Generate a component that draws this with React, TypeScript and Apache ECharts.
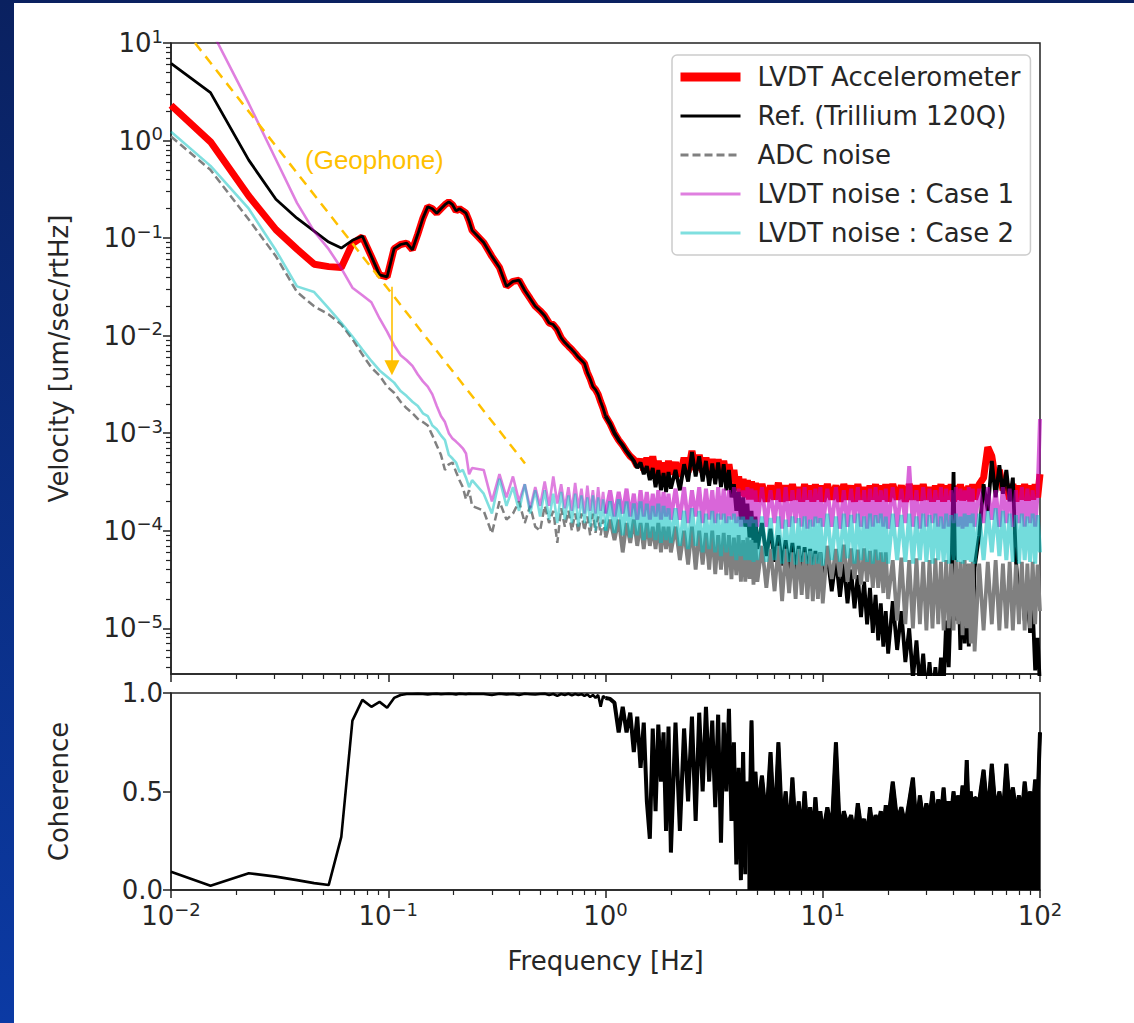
import React, { useEffect, useRef } from "react";
import * as echarts from "echarts";

// ---------------- data ----------------
const freqHz = [
  // 0.01 .. 0.25
  0.01, 0.0152, 0.0228, 0.0304, 0.038, 0.0456, 0.0532, 0.0608, 0.0684, 0.076,
  0.0836, 0.0912, 0.0988, 0.1064, 0.114, 0.1216, 0.1292, 0.1368, 0.1444, 0.152,
  0.1596, 0.1672, 0.1748, 0.1824, 0.19, 0.1976, 0.2052, 0.2128, 0.2204, 0.228,
  0.2356, 0.2432,
  // 0.275 .. 0.5
  0.275, 0.3, 0.325, 0.35, 0.375, 0.4, 0.425, 0.45, 0.475, 0.5,
  // 0.525 .. 1
  0.525, 0.55, 0.575, 0.6, 0.625, 0.65, 0.675, 0.7, 0.725, 0.75,
  0.775, 0.8, 0.825, 0.85, 0.875, 0.9, 0.925, 0.95, 0.975, 1,
  // 1.05 .. 2
  1.05, 1.1, 1.15, 1.2, 1.25, 1.3, 1.35, 1.4, 1.45, 1.5,
  1.55, 1.6, 1.65, 1.7, 1.75, 1.8, 1.85, 1.9, 1.95, 2,
  // 2.1 .. 5
  2.1, 2.2, 2.3, 2.4, 2.5, 2.6, 2.7, 2.8, 2.9, 3,
  3.1, 3.2, 3.3, 3.4, 3.5, 3.6, 3.7, 3.8, 3.9, 4,
  4.1, 4.2, 4.3, 4.4, 4.5, 4.6, 4.7, 4.8, 4.9, 5,
  // 5.25 .. 10
  5.25, 5.5, 5.75, 6, 6.25, 6.5, 6.75, 7, 7.25, 7.5,
  7.75, 8, 8.25, 8.5, 8.75, 9, 9.25, 9.5, 9.75, 10,
  // 10.5 .. 20
  10.5, 11, 11.5, 12, 12.5, 13, 13.5, 14, 14.5, 15,
  15.5, 16, 16.5, 17, 17.5, 18, 18.5, 19, 19.5, 20,
  // 21 .. 50
  21, 22, 23, 24, 25, 26, 27, 28, 29, 30,
  31, 32, 33, 34, 35, 36, 37, 38, 39, 40,
  41, 42, 43, 44, 45, 46, 47, 48, 49, 50,
  // 52.5 .. 100
  52.5, 55, 57.5, 60, 62.5, 65, 67.5, 70, 72.5, 75,
  77.5, 80, 82.5, 85, 87.5, 90, 92.5, 95, 97.5, 100,
];

const accelerometer = [
  2.3, 0.97, 0.27, 0.122, 0.077, 0.054, 0.051, 0.05, 0.088, 0.103,
  0.065, 0.042, 0.04, 0.078, 0.086, 0.089, 0.076, 0.11, 0.16, 0.21,
  0.2, 0.18, 0.2, 0.22, 0.235, 0.22, 0.19, 0.2, 0.19, 0.18,
  0.15, 0.12,
  0.09, 0.065, 0.05, 0.032, 0.036, 0.037, 0.029, 0.024, 0.02, 0.018,
  0.016, 0.0135, 0.013, 0.0115, 0.0095, 0.0085, 0.0078, 0.0072, 0.0066, 0.006,
  0.0056, 0.0052, 0.0042, 0.0036, 0.003, 0.0028, 0.0025, 0.0021, 0.0018, 0.0015,
  1.25e-3, 1.0e-3, 8.5e-4, 7.5e-4, 6.5e-4, 5.8e-4, 5.4e-4, 4.6e-4, 5.4e-4, 4.2e-4,
  5.6e-4, 4.0e-4, 5.8e-4, 3.8e-4, 5.2e-4, 3.6e-4, 5.0e-4, 3.6e-4, 5.2e-4, 3.8e-4,
  5.0e-4, 3.6e-4, 5.6e-4, 4.0e-4, 6.6e-4, 4.2e-4, 6.0e-4, 4.0e-4, 5.6e-4, 3.8e-4,
  5.4e-4, 3.8e-4, 5.4e-4, 3.7e-4, 5.2e-4, 3.6e-4, 4.8e-4, 3.2e-4, 4.2e-4, 2.6e-4,
  3.6e-4, 2.3e-4, 3.4e-4, 2.2e-4, 3.3e-4, 2.1e-4, 3.2e-4, 2.1e-4, 3.1e-4, 2.0e-4,
  3.0e-4, 2.0e-4, 2.9e-4, 2.1e-4, 3.1e-4, 2.0e-4, 2.9e-4, 2.05e-4, 3.0e-4, 2.1e-4,
  2.8e-4, 2.0e-4, 3.0e-4, 2.1e-4, 2.9e-4, 2.0e-4, 3.0e-4, 2.1e-4, 2.9e-4, 2.0e-4,
  3.0e-4, 2.1e-4, 2.9e-4, 2.0e-4, 3.0e-4, 2.1e-4, 2.9e-4, 2.0e-4, 3.0e-4, 2.1e-4,
  2.8e-4, 2.0e-4, 2.9e-4, 2.1e-4, 3.0e-4, 2.0e-4, 2.9e-4, 2.1e-4, 3.0e-4, 2.0e-4,
  3.0e-4, 2.1e-4, 2.9e-4, 2.0e-4, 3.0e-4, 2.1e-4, 2.9e-4, 2.05e-4, 3.0e-4, 2.1e-4,
  2.8e-4, 2.0e-4, 2.9e-4, 2.1e-4, 3.0e-4, 2.0e-4, 2.9e-4, 2.1e-4, 3.0e-4, 2.0e-4,
  2.9e-4, 2.1e-4, 3.0e-4, 2.05e-4, 2.8e-4, 2.1e-4, 2.9e-4, 2.0e-4, 3.0e-4, 2.1e-4,
  3.0e-4, 3.5e-4, 7.2e-4, 5.8e-4, 3.2e-4, 4.2e-4, 2.6e-4, 3.0e-4, 2.1e-4, 3.0e-4,
  2.0e-4, 2.9e-4, 2.1e-4, 3.0e-4, 2.05e-4, 2.9e-4, 2.1e-4, 3.0e-4, 2.2e-4, 3.8e-4,
];

const reference = [
  6.2, 3.1, 0.63, 0.25, 0.16, 0.118, 0.091, 0.079, 0.095, 0.105,
  0.065, 0.042, 0.04, 0.078, 0.086, 0.089, 0.076, 0.11, 0.16, 0.21,
  0.2, 0.18, 0.2, 0.22, 0.235, 0.22, 0.19, 0.2, 0.19, 0.18,
  0.15, 0.12,
  0.09, 0.065, 0.05, 0.032, 0.036, 0.037, 0.029, 0.024, 0.02, 0.018,
  0.016, 0.0135, 0.013, 0.0115, 0.0095, 0.0085, 0.0078, 0.0072, 0.0066, 0.006,
  0.0056, 0.0052, 0.0042, 0.0036, 0.003, 0.0028, 0.0025, 0.0021, 0.0018, 0.0015,
  1.25e-3, 1.0e-3, 8.5e-4, 7.5e-4, 6.5e-4, 5.8e-4, 5.2e-4, 4.4e-4, 5.0e-4, 3.8e-4,
  4.6e-4, 3.3e-4, 4.4e-4, 2.8e-4, 4.2e-4, 2.6e-4, 3.9e-4, 2.5e-4, 4.0e-4, 2.7e-4,
  4.2e-4, 2.6e-4, 4.8e-4, 3.2e-4, 6.4e-4, 3.6e-4, 5.8e-4, 3.2e-4, 5.2e-4, 2.9e-4,
  4.9e-4, 3.0e-4, 5.0e-4, 2.8e-4, 4.8e-4, 2.6e-4, 4.2e-4, 2.2e-4, 3.0e-4, 1.6e-4,
  2.5e-4, 1.3e-4, 2.2e-4, 1.1e-4, 1.9e-4, 8.5e-5, 1.6e-4, 7.5e-5, 1.4e-4, 6.5e-5,
  1.2e-4, 5.5e-5, 1.05e-4, 4.8e-5, 9.0e-5, 4.4e-5, 8.0e-5, 4.0e-5, 7.5e-5, 3.8e-5,
  7.0e-5, 3.5e-5, 6.8e-5, 3.4e-5, 6.5e-5, 3.2e-5, 6.2e-5, 3.0e-5, 6.0e-5, 2.9e-5,
  5.6e-5, 2.4e-5, 5.2e-5, 2.1e-5, 4.6e-5, 1.8e-5, 4.0e-5, 1.6e-5, 3.5e-5, 1.3e-5,
  3.0e-5, 1.1e-5, 2.6e-5, 9.0e-6, 2.2e-5, 7.5e-6, 1.8e-5, 6.5e-6, 1.5e-5, 5.5e-6,
  1.9e-5, 6.0e-6, 1.5e-5, 4.5e-6, 1.0e-5, 3.0e-6, 7.5e-6, 2.5e-6, 5.5e-6, 2.0e-6,
  4.5e-6, 2.0e-6, 4.0e-6, 2.0e-6, 5.0e-6, 2.5e-6, 1.2e-5, 4.0e-6, 2.5e-5, 4.0e-4,
  1.2e-5, 4.0e-5, 6.0e-6, 3.5e-5, 7.0e-6, 4.5e-5, 6.5e-6, 3.8e-5, 8.0e-6, 4.2e-5,
  9.0e-5, 3.0e-4, 1.6e-4, 5.2e-4, 2.2e-4, 4.7e-4, 2.4e-4, 4.2e-4, 2.0e-4, 3.5e-4,
  4.9e-5, 2.0e-5, 3.1e-5, 1.2e-5, 2.4e-5, 9.0e-6, 1.7e-5, 3.7e-6, 8.0e-6, 2.5e-6,
];

const adcNoise = [
  1.1, 0.5, 0.155, 0.065, 0.028, 0.02, 0.0165, 0.013, 0.0092, 0.0064,
  0.0047, 0.0039, 0.003, 0.0026, 0.0021, 0.0018, 0.0016, 0.0014, 0.0013, 0.0012,
  0.00095, 0.00075, 0.0006, 0.00042, 0.00048, 0.0005, 0.0004, 0.00033, 0.00028, 0.00021,
  0.00026, 0.00018,
  1.6e-4, 9.4e-5, 2.0e-4, 1.3e-4, 1.5e-4, 2.0e-4, 1.2e-4, 1.8e-4, 1.1e-4, 1.0e-4,
  1.8e-4, 1.2e-4, 1.6e-4, 7.5e-5, 1.7e-4, 1.1e-4, 1.6e-4, 1.0e-4, 1.5e-4, 9.5e-5,
  1.5e-4, 1.0e-4, 1.4e-4, 9.0e-5, 1.5e-4, 9.5e-5, 1.4e-4, 9.0e-5, 1.3e-4, 8.5e-5,
  1.3e-4, 8.0e-5, 1.3e-4, 6.0e-5, 1.2e-4, 7.5e-5, 1.3e-4, 7.0e-5, 1.2e-4, 6.5e-5,
  1.2e-4, 7.0e-5, 1.1e-4, 6.5e-5, 1.2e-4, 6.0e-5, 1.1e-4, 6.5e-5, 1.1e-4, 6.0e-5,
  1.1e-4, 5.0e-5, 1.0e-4, 4.5e-5, 1.1e-4, 4.0e-5, 1.0e-4, 4.5e-5, 9.5e-5, 4.0e-5,
  1.0e-4, 3.6e-5, 9.0e-5, 4.0e-5, 9.5e-5, 3.5e-5, 9.0e-5, 3.2e-5, 8.5e-5, 3.5e-5,
  9.0e-5, 3.0e-5, 8.0e-5, 3.0e-5, 8.5e-5, 3.2e-5, 8.0e-5, 2.8e-5, 7.5e-5, 3.0e-5,
  7.0e-5, 2.6e-5, 6.5e-5, 2.4e-5, 7.0e-5, 1.9e-5, 6.5e-5, 2.3e-5, 6.0e-5, 2.0e-5,
  6.5e-5, 2.2e-5, 6.0e-5, 2.0e-5, 6.2e-5, 1.9e-5, 5.8e-5, 2.0e-5, 6.0e-5, 1.8e-5,
  7.0e-5, 3.2e-5, 6.5e-5, 3.4e-5, 7.2e-5, 3.0e-5, 6.6e-5, 3.2e-5, 6.4e-5, 2.8e-5,
  6.6e-5, 3.0e-5, 6.2e-5, 2.6e-5, 6.4e-5, 2.6e-5, 6.0e-5, 2.3e-5, 6.0e-5, 2.0e-5,
  5.0e-5, 1.2e-5, 5.3e-5, 1.1e-5, 5.0e-5, 1.0e-5, 5.2e-5, 1.1e-5, 4.8e-5, 9.5e-6,
  5.0e-5, 1.0e-5, 5.2e-5, 1.1e-5, 4.8e-5, 9.5e-6, 5.0e-5, 1.0e-5, 4.6e-5, 9.5e-6,
  5.0e-5, 1.1e-5, 4.8e-5, 8.5e-6, 5.0e-5, 1.0e-5, 4.6e-5, 7.0e-6, 4.8e-5, 5.8e-6,
  4.6e-5, 9.5e-6, 4.8e-5, 1.1e-5, 5.0e-5, 9.5e-6, 4.6e-5, 1.0e-5, 4.8e-5, 9.5e-6,
  4.5e-5, 1.1e-5, 4.8e-5, 9.5e-6, 4.6e-5, 1.0e-5, 4.8e-5, 1.1e-5, 4.5e-5, 1.5e-5,
];

const lvdtCase1 = [
  90, 14, 2.4, 0.64, 0.23, 0.117, 0.077, 0.049, 0.031, 0.026,
  0.022, 0.015, 0.011, 0.008, 0.0063, 0.0056, 0.0049, 0.004, 0.0034, 0.003,
  0.0025, 0.0019, 0.0015, 0.0013, 0.001, 0.00088, 0.00082, 0.00076, 0.0007, 0.00062,
  0.00038, 0.00044,
  4.2e-4, 2.0e-4, 3.8e-4, 2.2e-4, 3.6e-4, 2.0e-4, 3.0e-4, 1.7e-4, 2.8e-4, 1.8e-4,
  3.2e-4, 1.8e-4, 3.6e-4, 1.9e-4, 3.0e-4, 1.7e-4, 2.8e-4, 1.6e-4, 3.1e-4, 1.7e-4,
  2.7e-4, 1.5e-4, 2.9e-4, 1.6e-4, 2.6e-4, 1.5e-4, 2.8e-4, 1.6e-4, 2.5e-4, 1.5e-4,
  2.6e-4, 1.4e-4, 2.5e-4, 1.5e-4, 2.7e-4, 1.4e-4, 2.4e-4, 1.3e-4, 2.6e-4, 1.4e-4,
  2.5e-4, 1.3e-4, 2.4e-4, 1.4e-4, 2.6e-4, 1.3e-4, 2.5e-4, 1.4e-4, 2.4e-4, 1.3e-4,
  2.7e-4, 1.3e-4, 2.8e-4, 1.2e-4, 2.6e-4, 1.4e-4, 2.8e-4, 1.2e-4, 2.7e-4, 1.3e-4,
  2.6e-4, 1.2e-4, 2.8e-4, 1.3e-4, 2.7e-4, 1.2e-4, 2.6e-4, 1.3e-4, 2.8e-4, 1.2e-4,
  2.7e-4, 1.1e-4, 2.6e-4, 1.2e-4, 2.8e-4, 1.1e-4, 2.7e-4, 1.2e-4, 2.6e-4, 1.1e-4,
  2.8e-4, 1.1e-4, 2.6e-4, 1.2e-4, 2.7e-4, 1.05e-4, 2.8e-4, 1.1e-4, 2.6e-4, 1.2e-4,
  2.7e-4, 1.1e-4, 2.8e-4, 1.05e-4, 2.6e-4, 1.1e-4, 2.7e-4, 1.2e-4, 2.8e-4, 1.1e-4,
  2.7e-4, 1.1e-4, 2.8e-4, 1.05e-4, 2.6e-4, 1.1e-4, 2.7e-4, 1.2e-4, 2.8e-4, 1.1e-4,
  2.6e-4, 1.05e-4, 2.7e-4, 1.1e-4, 2.8e-4, 1.2e-4, 2.6e-4, 1.1e-4, 2.7e-4, 1.05e-4,
  2.8e-4, 1.1e-4, 2.7e-4, 1.2e-4, 4.6e-4, 1.1e-4, 2.6e-4, 1.05e-4, 2.8e-4, 1.1e-4,
  2.7e-4, 1.2e-4, 2.6e-4, 1.1e-4, 2.8e-4, 1.05e-4, 2.7e-4, 1.1e-4, 2.6e-4, 1.2e-4,
  2.8e-4, 1.1e-4, 2.7e-4, 1.05e-4, 2.6e-4, 1.1e-4, 2.8e-4, 1.2e-4, 2.7e-4, 1.1e-4,
  2.7e-4, 1.2e-4, 2.8e-4, 1.3e-4, 2.6e-4, 1.1e-4, 2.8e-4, 1.2e-4, 2.7e-4, 1.1e-4,
  2.6e-4, 1.2e-4, 2.8e-4, 1.1e-4, 2.7e-4, 1.2e-4, 2.6e-4, 1.1e-4, 2.4e-4, 1.4e-3,
];

const lvdtCase2 = [
  1.23, 0.55, 0.2, 0.075, 0.032, 0.028, 0.019, 0.0135, 0.0098, 0.0072,
  0.0055, 0.0044, 0.0038, 0.0033, 0.0027, 0.0024, 0.0021, 0.0019, 0.0016, 0.0015,
  0.0012, 0.0011, 0.00095, 0.00085, 0.0006, 0.00055, 0.0005, 0.0004, 0.00042, 0.00035,
  0.00028, 0.00033,
  2.4e-4, 1.5e-4, 3.4e-4, 1.8e-4, 2.8e-4, 1.6e-4, 3.0e-4, 1.5e-4, 2.6e-4, 1.4e-4,
  2.6e-4, 1.3e-4, 2.4e-4, 1.2e-4, 2.5e-4, 1.3e-4, 2.3e-4, 1.2e-4, 2.4e-4, 1.1e-4,
  2.3e-4, 1.2e-4, 2.2e-4, 1.1e-4, 2.3e-4, 1.0e-4, 2.2e-4, 1.1e-4, 2.1e-4, 1.0e-4,
  2.0e-4, 9.5e-5, 2.1e-4, 9.0e-5, 2.0e-4, 8.5e-5, 1.9e-4, 9.0e-5, 2.0e-4, 8.0e-5,
  1.9e-4, 8.5e-5, 1.8e-4, 8.0e-5, 1.9e-4, 7.5e-5, 1.8e-4, 8.0e-5, 1.7e-4, 7.5e-5,
  1.7e-4, 7.0e-5, 1.6e-4, 6.5e-5, 1.7e-4, 7.0e-5, 1.6e-4, 6.0e-5, 1.5e-4, 6.5e-5,
  1.6e-4, 6.0e-5, 1.5e-4, 5.5e-5, 1.5e-4, 6.0e-5, 1.4e-4, 5.5e-5, 1.5e-4, 5.0e-5,
  1.4e-4, 5.5e-5, 1.4e-4, 5.0e-5, 1.3e-4, 5.0e-5, 1.4e-4, 4.8e-5, 1.3e-4, 5.0e-5,
  1.4e-4, 4.8e-5, 1.35e-4, 5.0e-5, 1.4e-4, 4.6e-5, 1.3e-4, 4.8e-5, 1.4e-4, 4.5e-5,
  1.35e-4, 4.8e-5, 1.4e-4, 4.6e-5, 1.3e-4, 4.5e-5, 1.4e-4, 4.6e-5, 1.35e-4, 4.4e-5,
  1.5e-4, 5.0e-5, 1.4e-4, 4.8e-5, 1.5e-4, 5.2e-5, 1.45e-4, 4.6e-5, 1.5e-4, 5.0e-5,
  1.4e-4, 4.8e-5, 1.5e-4, 4.6e-5, 1.45e-4, 5.0e-5, 1.5e-4, 4.8e-5, 1.4e-4, 4.6e-5,
  1.5e-4, 5.0e-5, 1.45e-4, 4.8e-5, 1.5e-4, 4.6e-5, 1.4e-4, 5.0e-5, 1.5e-4, 4.8e-5,
  1.45e-4, 4.6e-5, 1.5e-4, 5.0e-5, 1.4e-4, 4.8e-5, 1.5e-4, 4.6e-5, 1.45e-4, 5.0e-5,
  1.5e-4, 4.8e-5, 1.4e-4, 4.6e-5, 1.5e-4, 5.0e-5, 1.45e-4, 4.8e-5, 1.5e-4, 4.6e-5,
  1.5e-4, 5.0e-5, 1.6e-4, 6.0e-5, 1.7e-4, 5.5e-5, 1.6e-4, 5.0e-5, 1.5e-4, 4.8e-5,
  1.45e-4, 4.6e-5, 1.5e-4, 5.0e-5, 1.4e-4, 4.8e-5, 1.5e-4, 4.6e-5, 1.45e-4, 6.0e-5,
];

const coherence = [
  0.093, 0.022, 0.085, 0.068, 0.05, 0.035, 0.025, 0.27, 0.86, 0.965,
  0.93, 0.955, 0.925, 0.975, 0.99, 0.995, 0.995, 0.996, 0.995, 0.993,
  0.995, 0.996, 0.994, 0.995, 0.996, 0.995, 0.993, 0.996, 0.995, 0.994,
  0.996, 0.995,
  0.995, 0.99, 0.996, 0.993, 0.995, 0.99, 0.996, 0.994, 0.992, 0.995,
  0.996, 0.99, 0.995, 0.985, 0.995, 0.99, 0.996, 0.988, 0.995, 0.99,
  0.994, 0.985, 0.993, 0.98, 0.99, 0.975, 0.99, 0.93, 0.985, 0.975,
  0.97, 0.95, 0.8, 0.93, 0.8, 0.9, 0.7, 0.88, 0.62, 0.85,
  0.45, 0.26, 0.82, 0.4, 0.84, 0.55, 0.8, 0.3, 0.83, 0.19,
  0.85, 0.3, 0.82, 0.45, 0.88, 0.35, 0.9, 0.5, 0.93, 0.55,
  0.86, 0.42, 0.89, 0.24, 0.85, 0.5, 0.92, 0.35, 0.75, 0.13,
  0.62, 0.05, 0.7, 0.08, 0.55, 0.3, 0.86, 0.35, 0.6, 0.4,
  0.58, 0.35, 0.7, 0.3, 0.75, 0.32, 0.5, 0.28, 0.57, 0.3,
  0.45, 0.27, 0.5, 0.3, 0.42, 0.26, 0.47, 0.3, 0.4, 0.28,
  0.42, 0.3, 0.75, 0.28, 0.4, 0.33, 0.38, 0.28, 0.44, 0.32,
  0.36, 0.27, 0.42, 0.3, 0.38, 0.33, 0.4, 0.3, 0.43, 0.35,
  0.55, 0.35, 0.42, 0.33, 0.45, 0.57, 0.32, 0.48, 0.35, 0.44,
  0.36, 0.5, 0.34, 0.46, 0.37, 0.52, 0.35, 0.45, 0.38, 0.5,
  0.36, 0.48, 0.4, 0.53, 0.37, 0.66, 0.38, 0.5, 0.36, 0.47,
  0.45, 0.61, 0.38, 0.64, 0.4, 0.5, 0.38, 0.64, 0.42, 0.52,
  0.4, 0.48, 0.38, 0.55, 0.42, 0.5, 0.4, 0.56, 0.45, 0.8,
];

// above this frequency the noisy traces read as dense, solid bands
const bandFrom = 1;
const coherenceFillFrom = 4.45;

// geophone noise annotation (straight line on log-log) and the arrow
const geophoneFreq = [0.0129, 0.426];
const geophoneVel = [10, 4.9e-4];
const arrowFreq = 0.104;
const arrowFromVel = 0.0317;
const arrowToVel = 0.0047;

const seriesNames = [
  "LVDT Accelerometer",
  "Ref. (Trillium 120Q)",
  "ADC noise",
  "LVDT noise : Case 1",
  "LVDT noise : Case 2",
];

const freqMajorTicks = [0.01, 0.1, 1, 10, 100];
const freqMinorTicks = [
  0.02, 0.03, 0.04, 0.05, 0.06, 0.07, 0.08, 0.09,
  0.2, 0.3, 0.4, 0.5, 0.6, 0.7, 0.8, 0.9,
  2, 3, 4, 5, 6, 7, 8, 9,
  20, 30, 40, 50, 60, 70, 80, 90,
];
const velMajorTicks = [1e-5, 1e-4, 1e-3, 1e-2, 1e-1, 1, 10];
const velMinorTicks = [
  4e-6, 5e-6, 6e-6, 7e-6, 8e-6, 9e-6,
  2e-5, 3e-5, 4e-5, 5e-5, 6e-5, 7e-5, 8e-5, 9e-5,
  2e-4, 3e-4, 4e-4, 5e-4, 6e-4, 7e-4, 8e-4, 9e-4,
  2e-3, 3e-3, 4e-3, 5e-3, 6e-3, 7e-3, 8e-3, 9e-3,
  0.02, 0.03, 0.04, 0.05, 0.06, 0.07, 0.08, 0.09,
  0.2, 0.3, 0.4, 0.5, 0.6, 0.7, 0.8, 0.9,
  2, 3, 4, 5, 6, 7, 8, 9,
];
const velMin = 3.4e-6;
const velMax = 10;

// ---------------- chart ----------------
const FONT = "DejaVu Sans";
const TXT = "#262626";
const AX = "#222";
const FS = 26;

const pairs = (vals: number[]) => freqHz.map((f, i) => [f, vals[i]]);
const below = (vals: number[], cut: number) => pairs(vals).filter((p) => p[0] <= cut);
const above = (vals: number[], cut: number) => pairs(vals).filter((p) => p[0] >= cut);

const powLabel = (v: number) => {
  const e = Math.round(Math.log10(v));
  const s = e < 0 ? "\u2212" + String(-e) : String(e);
  return "{b|10}{s|" + s + "}";
};
const powRich = {
  b: { fontSize: FS, fontFamily: FONT, color: TXT, lineHeight: 32 },
  s: { fontSize: 18, fontFamily: FONT, color: TXT, lineHeight: 18, verticalAlign: "top" },
};

const G0 = { left: 157, top: 40, width: 869, height: 631 };
const G1 = { left: 157, top: 690, width: 869, height: 197 };

function buildOption(): any {
  const logX = (grid: number, major: boolean, labels: boolean) => ({
    type: "log",
    logBase: 10,
    gridIndex: grid,
    position: "bottom",
    min: 0.01,
    max: 100,
    axisLine: { show: major, lineStyle: { color: AX, width: 1.5 } },
    axisTick: {
      show: true,
      customValues: major ? freqMajorTicks : freqMinorTicks,
      length: major ? 8 : 5,
      lineStyle: { color: AX, width: major ? 1.5 : 1.2 },
    },
    axisLabel: labels
      ? {
          show: true,
          customValues: freqMajorTicks,
          formatter: powLabel,
          rich: powRich,
          margin: 10,
          showMinLabel: true,
          showMaxLabel: true,
          hideOverlap: false,
        }
      : { show: false },
    splitLine: { show: false },
    minorTick: { show: false },
    minorSplitLine: { show: false },
    name: labels ? "Frequency [Hz]" : "",
    nameLocation: "middle",
    nameGap: 58,
    nameTextStyle: { fontFamily: FONT, fontSize: FS, color: TXT },
  });

  const logY = (major: boolean) => ({
    type: "log",
    logBase: 10,
    gridIndex: 0,
    position: "left",
    min: velMin,
    max: velMax,
    axisLine: { show: major, lineStyle: { color: AX, width: 1.5 } },
    axisTick: {
      show: true,
      customValues: major ? velMajorTicks : velMinorTicks,
      length: major ? 8 : 5,
      lineStyle: { color: AX, width: major ? 1.5 : 1.2 },
    },
    axisLabel: major
      ? {
          show: true,
          customValues: velMajorTicks,
          formatter: powLabel,
          rich: powRich,
          margin: 8,
          showMinLabel: true,
          showMaxLabel: true,
          hideOverlap: false,
        }
      : { show: false },
    splitLine: { show: false },
    name: major ? "Velocity [um/sec/rtHz]" : "",
    nameLocation: "middle",
    nameRotate: 90,
    nameGap: 99,
    nameTextStyle: { fontFamily: FONT, fontSize: FS, color: TXT },
  });

  const top = { xAxisIndex: 0, yAxisIndex: 0, type: "line", symbol: "none", clip: true };
  const bottom = { xAxisIndex: 2, yAxisIndex: 2, type: "line", symbol: "none", clip: true };

  return {
    animation: false,
    backgroundColor: "#ffffff",
    grid: [
      { ...G0, show: true, borderColor: AX, borderWidth: 1.5, backgroundColor: "transparent" },
      { ...G1, show: true, borderColor: AX, borderWidth: 1.5, backgroundColor: "transparent" },
    ],
    legend: {
      data: [
        { name: seriesNames[0], lineStyle: { width: 9 } },
        { name: seriesNames[1], lineStyle: { width: 3 } },
        { name: seriesNames[2], lineStyle: { width: 3 } },
        { name: seriesNames[3], lineStyle: { width: 3 } },
        { name: seriesNames[4], lineStyle: { width: 3 } },
      ],
      orient: "vertical",
      left: 658,
      top: 52,
      itemWidth: 60,
      itemHeight: 12,
      itemGap: 9,
      selectedMode: false,
      itemStyle: { opacity: 0 },
      padding: [7, 10, 7, 4],
      backgroundColor: "rgba(255,255,255,0.85)",
      borderColor: "#cccccc",
      borderWidth: 1.5,
      borderRadius: 5,
      textStyle: { fontFamily: FONT, fontSize: FS, color: TXT, lineHeight: 30, padding: [0, 0, 0, 12] },
    },
    xAxis: [logX(0, true, false), logX(0, false, false), logX(1, true, true), logX(1, false, false)],
    yAxis: [
      logY(true),
      logY(false),
      {
        type: "value",
        gridIndex: 1,
        position: "left",
        min: 0,
        max: 1,
        interval: 0.5,
        axisLine: { show: true, lineStyle: { color: AX, width: 1.5 } },
        axisTick: { show: true, length: 8, lineStyle: { color: AX, width: 1.5 } },
        axisLabel: {
          show: true,
          fontFamily: FONT,
          fontSize: FS,
          color: TXT,
          margin: 8,
          formatter: (v: number) => v.toFixed(1),
        },
        splitLine: { show: false },
        name: "Coherence",
        nameLocation: "middle",
        nameRotate: 90,
        nameGap: 99,
        nameTextStyle: { fontFamily: FONT, fontSize: FS, color: TXT },
      },
    ],
    series: [
      {
        ...top,
        name: seriesNames[0],
        data: pairs(accelerometer),
        lineStyle: { color: "#ff0000", width: 7 },
        itemStyle: { color: "#ff0000" },
      },
      {
        ...top,
        name: seriesNames[1],
        data: below(reference, bandFrom),
        lineStyle: { color: "#000000", width: 2.8 },
        itemStyle: { color: "#000000" },
      },
      {
        ...top,
        name: "Ref. band",
        data: above(reference, bandFrom),
        lineStyle: { color: "#000000", width: 3.8 },
      },
      {
        ...top,
        name: seriesNames[2],
        data: below(adcNoise, bandFrom),
        lineStyle: { color: "#808080", width: 2.5, type: [8, 4] },
        itemStyle: { color: "#808080" },
      },
      {
        ...top,
        name: "ADC band",
        data: above(adcNoise, bandFrom),
        lineStyle: { color: "#808080", width: 3.8 },
      },
      {
        ...top,
        name: seriesNames[3],
        data: below(lvdtCase1, bandFrom),
        lineStyle: { color: "#bf00bf", width: 2.6, opacity: 0.5 },
        itemStyle: { color: "#bf00bf", opacity: 0.5 },
      },
      {
        ...top,
        name: "Case 1 band",
        data: above(lvdtCase1, bandFrom),
        lineStyle: { color: "#bf00bf", width: 4, opacity: 0.6 },
      },
      {
        ...top,
        name: seriesNames[4],
        data: below(lvdtCase2, bandFrom),
        lineStyle: { color: "#00bfbf", width: 2.6, opacity: 0.5 },
        itemStyle: { color: "#00bfbf", opacity: 0.5 },
      },
      {
        ...top,
        name: "Case 2 band",
        data: above(lvdtCase2, bandFrom),
        lineStyle: { color: "#00bfbf", width: 4, opacity: 0.55 },
      },
      {
        ...top,
        name: "Geophone",
        data: geophoneFreq.map((f, i) => [f, geophoneVel[i]]),
        lineStyle: { color: "#ffc000", width: 2.5, type: [10, 7] },
        markLine: {
          silent: true,
          symbol: ["none", "triangle"],
          symbolSize: 15,
          label: { show: false },
          lineStyle: { color: "#ffc000", width: 1.6, type: "solid" },
          data: [[{ coord: [arrowFreq, arrowFromVel] }, { coord: [arrowFreq, arrowToVel] }]],
        },
      },
      {
        ...bottom,
        name: "Coherence",
        data: below(coherence, bandFrom),
        lineStyle: { color: "#000000", width: 2.6 },
      },
      {
        ...bottom,
        name: "Coherence noisy",
        data: above(coherence, bandFrom),
        lineStyle: { color: "#000000", width: 4 },
      },
      {
        ...bottom,
        name: "Coherence band",
        data: above(coherence, coherenceFillFrom),
        lineStyle: { color: "#000000", width: 3 },
        areaStyle: { color: "#000000", opacity: 1, origin: "start" },
      },
    ],
    graphic: [
      {
        type: "text",
        x: 291,
        y: 157,
        style: {
          text: "(Geophone)",
          fill: "#ffc000",
          font: '26px "Liberation Sans", Arial, sans-serif',
          textVerticalAlign: "middle",
          verticalAlign: "middle",
        },
        z: 10,
      },
    ],
  };
}

export default function App() {
  const ref = useRef<HTMLDivElement>(null);
  useEffect(() => {
    if (!ref.current) return;
    const chart = echarts.init(ref.current, null, { renderer: "svg" });
    chart.setOption(buildOption());
    return () => chart.dispose();
  }, []);
  return (
    <div
      style={{
        position: "fixed",
        left: 0,
        top: 0,
        width: 1134,
        height: 1023,
        background: "linear-gradient(180deg, #0a2160 0%, #0b3aa4 100%)",
        overflow: "hidden",
      }}
    >
      <div
        ref={ref}
        style={{ position: "absolute", left: 14, top: 3, width: 1120, height: 1020, background: "#ffffff" }}
      />
    </div>
  );
}
